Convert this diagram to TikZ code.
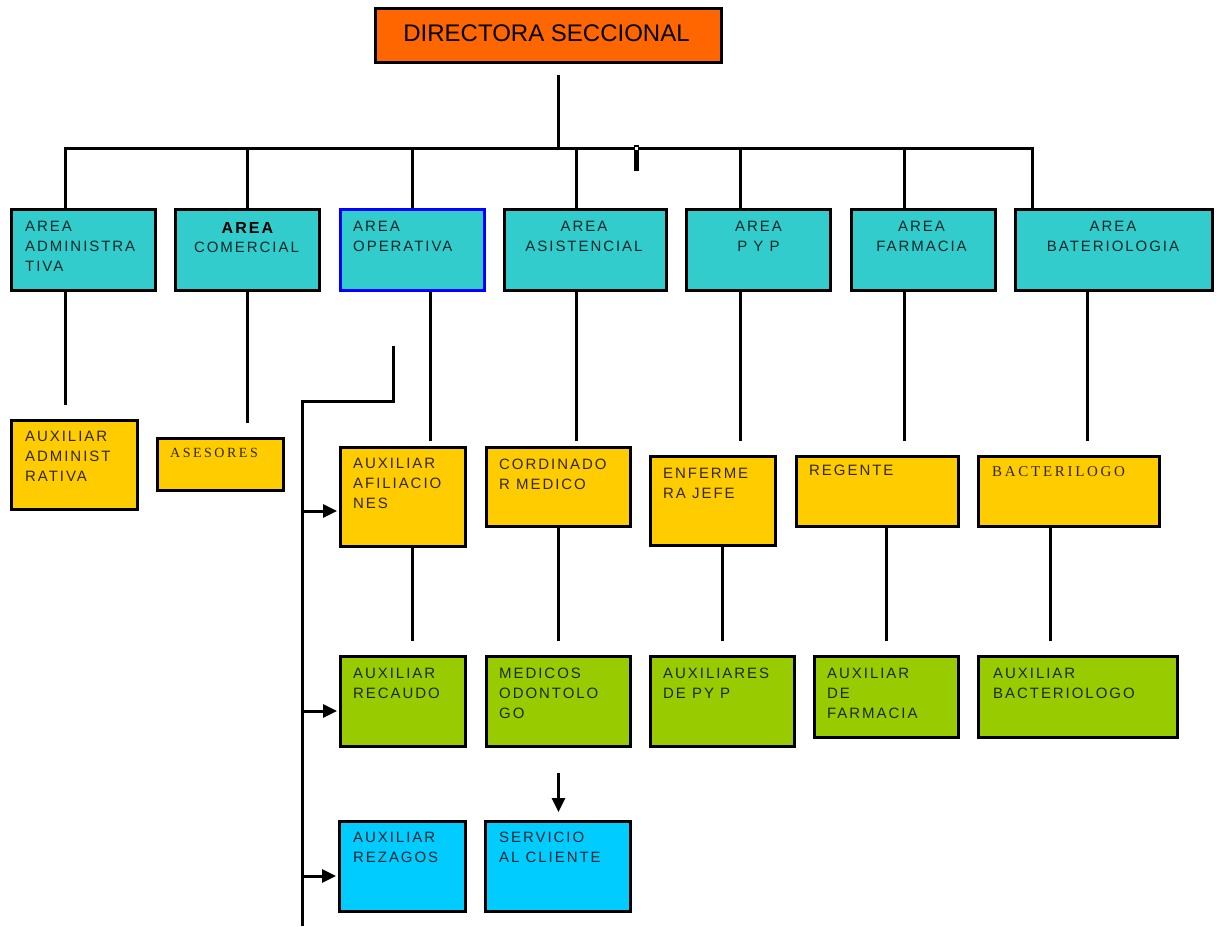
\documentclass[tikz,border=0pt]{standalone}
\usepackage{fontspec}
\setmainfont{Liberation Sans}
\newfontfamily\boxfont{Liberation Sans}[LetterSpace=13]
\newfontfamily\boxserif{Liberation Serif}[LetterSpace=18]
\usetikzlibrary{calc,arrows.meta}

\definecolor{dirorange}{HTML}{FF6600}
\definecolor{areateal}{HTML}{33CCCC}
\definecolor{staffyellow}{HTML}{FFCC00}
\definecolor{staffgreen}{HTML}{99CC00}
\definecolor{staffcyan}{HTML}{00CCFF}
\definecolor{frameblue}{HTML}{0000FF}

\tikzset{
  orgbox/.style={draw=black, line width=3pt, rectangle, anchor=north west, inner sep=0pt},
  lbl/.style={anchor=north west, inner sep=0pt, align=left,
    font=\boxfont\fontsize{15}{20}\selectfont, text=black, text opacity=0.8},
  lblc/.style={lbl, anchor=north, align=center},
  lbls/.style={lbl, font=\boxserif\fontsize{14}{18}\selectfont},
  wire/.style={line width=3pt},
  feed/.style={wire, -{Triangle[length=14pt,width=13pt]}, shorten >=2pt},
}

% vertical link from the bottom of one box towards the top of another
\newcommand\linkdown[4]{%
  \coordinate (s) at ($(#1.south)+(#2,0)$);
  \coordinate (e) at ($(#3.north)+(0,-#4)$);
  \draw[wire] (s) -- (s |- e);}

\begin{document}
\begin{tikzpicture}[x=1pt,y=-1pt]
\useasboundingbox[fill=white] (0,0) rectangle (1223,926);

% ---- boxes ----
\node[orgbox, fill=dirorange, minimum width=346pt, minimum height=54pt] (dir) at (374,7) {};

\node[orgbox, fill=areateal, minimum width=144pt, minimum height=81pt] (adm) at (10,208) {};
\node[orgbox, fill=areateal, minimum width=144pt, minimum height=81pt] (com) at (174,208) {};
\node[orgbox, fill=areateal, draw=frameblue, minimum width=144pt, minimum height=81pt] (ope) at (339,208) {};
\node[orgbox, fill=areateal, minimum width=162pt, minimum height=81pt] (asi) at (503,208) {};
\node[orgbox, fill=areateal, minimum width=144pt, minimum height=81pt] (pyp) at (685,208) {};
\node[orgbox, fill=areateal, minimum width=144pt, minimum height=81pt] (far) at (850,208) {};
\node[orgbox, fill=areateal, minimum width=197pt, minimum height=81pt] (bat) at (1014,208) {};

\node[orgbox, fill=staffyellow, minimum width=126pt, minimum height=89pt] (auxadm) at (10,419) {};
\node[orgbox, fill=staffyellow, minimum width=126pt, minimum height=52pt] (ase) at (156,437) {};
\node[orgbox, fill=staffyellow, minimum width=125pt, minimum height=99pt] (afi) at (339,446) {};
\node[orgbox, fill=staffyellow, minimum width=144pt, minimum height=79pt] (cor) at (485,446) {};
\node[orgbox, fill=staffyellow, minimum width=125pt, minimum height=89pt] (enf) at (649,455) {};
\node[orgbox, fill=staffyellow, minimum width=162pt, minimum height=70pt] (reg) at (795,455) {};
\node[orgbox, fill=staffyellow, minimum width=181pt, minimum height=70pt] (bac) at (977,455) {};

\node[orgbox, fill=staffgreen, minimum width=125pt, minimum height=90pt] (rec) at (339,655) {};
\node[orgbox, fill=staffgreen, minimum width=144pt, minimum height=90pt] (med) at (485,655) {};
\node[orgbox, fill=staffgreen, minimum width=144pt, minimum height=90pt] (app) at (649,655) {};
\node[orgbox, fill=staffgreen, minimum width=144pt, minimum height=81pt] (afa) at (813,655) {};
\node[orgbox, fill=staffgreen, minimum width=199pt, minimum height=81pt] (abt) at (977,655) {};

\node[orgbox, fill=staffcyan, minimum width=126pt, minimum height=90pt] (rez) at (338,820) {};
\node[orgbox, fill=staffcyan, minimum width=145pt, minimum height=90pt] (ser) at (484,820) {};

% ---- texts ----
\node[anchor=base, inner sep=0pt, font=\fontsize{24}{28}\selectfont] (dir-t)
  at ($(dir.south)+(-2,-23)$) {DIRECTORA SECCIONAL};

\node[lbl] (adm-t) at ($(adm.north west)+(15,13)$) {AREA\\ADMINISTRA\\TIVA};
\node[lblc, text opacity=1, font=\boxfont\bfseries\fontsize{16}{20}\selectfont] (com-t1)
  at ($(com.north)+(0,14)$) {AREA};
\node[lblc] (com-t2) at ($(com.north)+(-1,34)$) {COMERCIAL};
\node[lbl] (ope-t) at ($(ope.north west)+(14,13)$) {AREA\\OPERATIVA};
\node[lblc] (asi-t) at ($(asi.north)+(-1.5,13)$) {AREA\\ASISTENCIAL};
\node[lblc] (pyp-t) at ($(pyp.north)+(0,13)$) {AREA\\P Y P};
\node[lblc] (far-t) at ($(far.north)+(-2,13)$) {AREA\\FARMACIA};
\node[lblc] (bat-t) at ($(bat.north)+(-1,13)$) {AREA\\BATERIOLOGIA};

\node[lbl] (auxadm-t) at ($(auxadm.north west)+(15,12)$) {AUXILIAR\\ADMINIST\\RATIVA};
\node[lbls] (ase-t) at ($(ase.north west)+(14,11)$) {ASESORES};
\node[lbl] (afi-t) at ($(afi.north west)+(14,12)$) {AUXILIAR\\AFILIACIO\\NES};
\node[lbl] (cor-t) at ($(cor.north west)+(14,13)$) {CORDINADO\\R MEDICO};
\node[lbl] (enf-t) at ($(enf.north west)+(14,13)$) {ENFERME\\RA JEFE};
\node[lbl] (reg-t) at ($(reg.north west)+(14,10)$) {REGENTE};
\node[lbls, font=\boxserif\fontsize{15}{18}\selectfont] (bac-t)
  at ($(bac.north west)+(15,11)$) {BACTERILOGO};

\node[lbl] (rec-t) at ($(rec.north west)+(14,13)$) {AUXILIAR\\RECAUDO};
\node[lbl] (med-t) at ($(med.north west)+(14,13)$) {MEDICOS\\ODONTOLO\\GO};
\node[lbl] (app-t) at ($(app.north west)+(14,13)$) {AUXILIARES\\DE PY P};
\node[lbl] (afa-t) at ($(afa.north west)+(14,13)$) {AUXILIAR\\DE\\FARMACIA};
\node[lbl] (abt-t) at ($(abt.north west)+(16,13)$) {AUXILIAR\\BACTERIOLOGO};

\node[lbl] (rez-t) at ($(rez.north west)+(15,12)$) {AUXILIAR\\REZAGOS};
\node[lbl] (ser-t) at ($(ser.north west)+(15,12)$) {SERVICIO\\AL CLIENTE};

% ---- connectors ----
\coordinate (busL) at (65,148);
\coordinate (dtop) at ($(dir.south)+(9.5,11)$);
\draw[wire] (dtop) -- (dtop |- busL);
\draw[wire] ($(adm.north)+(-18.5,0)$) |- ($(bat.north)+(-82,-60)$) -- ($(bat.north)+(-82,0)$);
\foreach \n/\dx in {com/-0.5, ope/-0.5, asi/-9.5, pyp/-18.5, far/-19.5}{
  \coordinate (t) at ($(\n.north)+(\dx,0)$);
  \draw[wire] (t) -- (t |- busL);
}
% small mark on the bus
\draw[line width=5pt] (636,145) -- (636,171);
\fill[white] (634.5,146.5) rectangle (637.5,149.5);

\linkdown{adm}{-18.5}{auxadm}{14}
\linkdown{com}{-0.5}{ase}{14}
\linkdown{ope}{17.5}{afi}{5}
\linkdown{asi}{-9.5}{cor}{5}
\linkdown{pyp}{-18.5}{enf}{14}
\linkdown{far}{-19.5}{reg}{14}
\linkdown{bat}{-27}{bac}{14}

\linkdown{afi}{9}{rec}{14}
\linkdown{cor}{0}{med}{14}
\linkdown{enf}{9.5}{app}{14}
\linkdown{reg}{8.5}{afa}{14}
\linkdown{bac}{-19}{abt}{14}

% arrow down to customer service
\coordinate (ms) at ($(med.south)+(0,25)$);
\coordinate (se) at ($(ser.north)+(0,-8)$);
\draw[feed, shorten >=0pt] (ms) -- (ms |- se);

% side trunk feeding the operative staff
\coordinate (hook) at (393,346);
\coordinate (trunk) at (302,401);
\coordinate (trunkend) at (302,926);
\draw[wire] (hook) |- (trunk) -- (trunkend);
\foreach \n/\dy in {afi/14, rec/9.5, rez/9.5}{
  \coordinate (e) at ($(\n.west)+(0,\dy)$);
  \draw[feed] (e -| trunk) -- (e);
}
\end{tikzpicture}
\end{document}
